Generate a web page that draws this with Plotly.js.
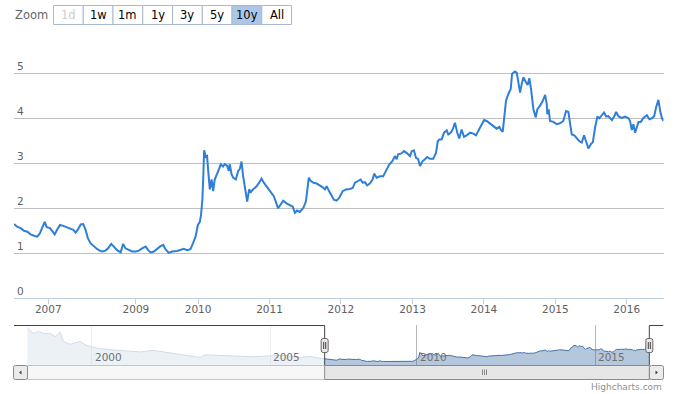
<!DOCTYPE html>
<html><head><meta charset="utf-8">
<script src="https://cdn.plot.ly/plotly-3.0.1.min.js"></script>
<style>html,body{margin:0;padding:0;background:#fff;} #chart{width:678px;height:394px;}</style>
</head><body><div id="chart"></div>
<script>
// ---------- data ----------
const dates = ['2006-07-10','2006-07-26','2006-08-13','2006-08-30','2006-09-16','2006-10-03','2006-10-20','2006-11-06','2006-11-19','2006-12-01','2006-12-14','2006-12-24',
'2007-01-10','2007-01-21','2007-02-03','2007-02-16','2007-03-02','2007-03-19','2007-04-05','2007-04-22','2007-05-09','2007-05-21','2007-06-02','2007-06-16','2007-06-29','2007-07-11','2007-07-23','2007-08-06','2007-08-23','2007-09-09',
'2008-07-01','2008-07-13','2008-07-30','2008-08-12','2008-08-28','2008-09-11','2008-09-27','2008-10-15','2008-10-28','2008-11-09','2008-11-26','2008-12-13','2008-12-31',
'2009-01-16','2009-02-02','2009-02-20','2009-03-05','2009-03-17','2009-04-03','2009-04-20','2009-05-07','2009-05-21','2009-07-18','2009-08-04','2009-08-21','2009-09-16','2009-10-03','2009-10-20','2009-11-06','2009-11-23','2009-12-06','2009-12-19','2009-12-31',
'2010-01-10','2010-01-16','2010-01-23','2010-01-27','2010-02-01','2010-02-09','2010-02-16','2010-02-21','2010-03-02','2010-03-11','2010-03-19','2010-03-27','2010-04-05','2010-04-18','2010-04-27','2010-05-09','2010-05-18','2010-05-29','2010-06-07','2010-06-12','2010-06-21','2010-06-29','2010-07-13','2010-07-25','2010-08-02','2010-08-11','2010-08-19','2010-08-28','2010-09-09','2010-09-19','2010-09-28','2010-10-09','2010-10-27','2010-11-09','2010-11-21','2010-12-03','2010-12-17','2010-12-30',
'2011-01-11','2011-01-23','2011-02-02','2011-02-14','2011-02-26','2011-03-12','2011-03-29','2011-04-15','2011-04-29','2011-05-11','2011-05-22','2011-06-05','2011-06-22','2011-07-06','2011-07-15','2011-07-21','2011-07-30','2011-08-12','2011-08-30','2011-09-16','2011-09-29','2011-10-11','2011-10-20','2011-11-02','2011-11-14','2011-11-26','2011-12-10','2011-12-23',
'2012-01-10','2012-01-27','2012-02-16','2012-03-01','2012-03-13','2012-03-29','2012-04-11','2012-04-21','2012-05-03','2012-05-14','2012-05-28','2012-06-11','2012-06-19','2012-07-02','2012-07-18','2012-08-04','2012-08-22','2012-09-04','2012-09-21','2012-10-03','2012-10-12','2012-10-20','2012-11-06','2012-11-18','2012-12-05','2012-12-19','2012-12-28',
'2013-01-08','2013-01-19','2013-01-30','2013-02-08','2013-02-22','2013-03-06','2013-03-17','2013-03-31','2013-04-17','2013-05-01','2013-05-10','2013-05-18','2013-05-30','2013-06-11','2013-06-25','2013-07-03','2013-07-15','2013-07-25','2013-08-06','2013-08-18','2013-08-28','2013-09-09','2013-09-21','2013-10-05','2013-10-22','2013-11-08','2013-11-22','2013-12-03','2013-12-21',
'2014-01-02','2014-01-15','2014-02-01','2014-02-18','2014-03-07','2014-03-21','2014-03-29','2014-04-07','2014-04-15','2014-04-24','2014-05-06','2014-05-18','2014-05-25','2014-05-31','2014-06-09','2014-06-18','2014-06-26','2014-07-05','2014-07-13','2014-07-22','2014-08-04','2014-08-13','2014-08-21','2014-08-30','2014-09-11','2014-09-23','2014-10-01','2014-10-15','2014-10-29','2014-11-10','2014-11-18','2014-11-21','2014-11-28','2014-12-05','2014-12-22',
'2015-01-08','2015-01-25','2015-02-11','2015-02-25','2015-03-09','2015-03-17','2015-03-26','2015-04-08','2015-04-21','2015-05-04','2015-05-16','2015-05-28','2015-06-07','2015-06-19','2015-07-01','2015-07-12','2015-07-23','2015-08-04','2015-08-14','2015-08-27','2015-09-07','2015-09-18','2015-09-29','2015-10-17','2015-10-29','2015-11-08','2015-11-20','2015-12-07','2015-12-24',
'2016-01-10','2016-01-18','2016-01-27','2016-02-04','2016-02-13','2016-02-22','2016-03-01','2016-03-13','2016-03-26','2016-04-13','2016-04-26','2016-05-08','2016-05-20','2016-05-30','2016-06-11','2016-06-20','2016-06-29','2016-07-07'];
const values = [1.65,1.59,1.56,1.50,1.48,1.42,1.39,1.37,1.44,1.56,1.70,1.58,
1.56,1.50,1.42,1.53,1.63,1.61,1.58,1.56,1.52,1.46,1.53,1.64,1.65,1.52,1.33,1.22,1.15,1.09,
1.06,1.04,1.06,1.11,1.21,1.15,1.07,1.02,1.21,1.11,1.07,1.04,1.04,
1.06,1.11,1.15,1.07,1.02,1.04,1.11,1.16,1.19,1.09,1.01,1.04,1.05,1.07,1.10,1.07,1.09,1.22,1.37,1.63,
1.70,1.85,2.20,2.64,3.29,3.14,3.16,2.87,2.42,2.64,2.38,2.64,2.72,2.87,2.98,2.93,2.98,2.95,2.83,2.98,2.76,2.68,2.64,2.83,2.87,3.04,2.72,2.49,2.15,2.42,2.36,2.42,2.49,2.57,2.66,2.57,2.49,2.42,
2.34,2.27,2.15,2.00,2.08,2.17,2.11,2.08,2.04,1.90,1.95,1.92,2.00,2.15,2.42,2.68,2.61,2.57,2.55,2.51,2.47,2.42,2.49,2.38,2.27,2.19,2.17,2.23,
2.38,2.42,2.43,2.45,2.57,2.60,2.64,2.57,2.58,2.51,2.55,2.64,2.77,2.68,2.71,2.71,2.85,2.97,3.05,3.16,3.09,3.20,3.22,3.27,3.22,3.16,3.27,
3.29,3.12,3.09,2.94,3.05,3.09,3.14,3.10,3.10,3.23,3.49,3.53,3.53,3.68,3.73,3.64,3.68,3.75,3.90,3.68,3.55,3.75,3.59,3.62,3.68,3.66,3.62,3.72,3.87,
3.96,3.94,3.88,3.83,3.77,3.81,3.74,3.70,3.98,4.39,4.54,4.65,4.99,5.02,5.04,5.01,4.80,4.57,4.76,4.91,4.80,4.74,4.89,4.65,4.20,4.02,4.20,4.28,4.39,4.52,4.32,4.09,4.20,3.94,3.92,
3.87,3.89,3.94,4.16,4.14,3.90,3.64,3.62,3.55,3.49,3.46,3.62,3.49,3.33,3.42,3.47,3.79,4.04,4.00,4.07,4.13,4.04,4.05,3.96,4.04,4.14,4.04,4.01,4.04,
4.00,3.94,3.74,3.87,3.68,3.83,3.92,3.92,4.01,4.07,3.98,4.00,4.04,4.24,4.41,4.16,4.00,3.94];

// navigator history before the selected range
const navDates = ['1998-03-14','1998-05-14','1998-07-04','1998-08-25','1998-11-01','1998-12-22','1999-02-11','1999-03-17','1999-05-24','1999-09-03','1999-11-11','2000-02-21','2000-07-06','2000-12-24','2001-05-10','2001-09-20','2002-02-06','2002-08-30','2003-01-13','2003-03-05','2003-07-03','2003-12-17','2004-07-08','2004-11-26','2005-05-11','2005-11-01','2006-02-11','2006-05-04'];
const navValues = [9.4,8.0,8.45,8.0,8.0,7.2,8.3,6.0,5.3,6.0,5.0,4.35,3.95,3.55,3.4,3.8,3.3,2.7,2.05,2.7,2.55,2.4,2.2,2.4,2.55,2.05,2.3,1.9];

// ordinal gaps (periods without data)
const gaps = [['2007-09-22','2008-07-01'],['2009-05-29','2009-07-15']];

const yearTicks = ['2007-01-01','2009-01-01','2010-01-01','2011-01-01','2012-01-01','2013-01-01','2014-01-01','2015-01-01','2016-01-01'];
const yearLabels = ['2007','2009','2010','2011','2012','2013','2014','2015','2016'];
const yTicks = [0,1,2,3,4,5,6];
const yLabels = ['0','1','2','3','4','5',''];
const navTicks = ['2000-01-01','2005-01-01','2010-01-01','2015-01-01'];
const navLabels = ['2000','2005','2010','2015'];
const navRange = ['1997-10-28','2016-11-29'];
const buttons = ['1d','1w','1m','1y','3y','5y','10y','All'];
const selectedButton = '10y';
const disabledButton = '1d';

// ---------- layout helpers ----------
const W = 678, H = 394;
const X = p => p / W;
const Y = p => 1 - p / H;
const FONT = 'DejaVu Sans, Verdana, sans-serif';
const start = dates[0], end = dates[dates.length - 1];

function rr(x0, y0, x1, y1, r) { // rounded rect path in paper coords from pixel box
  const a = (x,y) => X(x) + ',' + Y(y);
  return 'M' + a(x0 + r, y0) + ' L' + a(x1 - r, y0) + ' Q' + a(x1, y0) + ' ' + a(x1, y0 + r) +
    ' L' + a(x1, y1 - r) + ' Q' + a(x1, y1) + ' ' + a(x1 - r, y1) + ' L' + a(x0 + r, y1) +
    ' Q' + a(x0, y1) + ' ' + a(x0, y1 - r) + ' L' + a(x0, y0 + r) + ' Q' + a(x0, y0) + ' ' + a(x0 + r, y0) + ' Z';
}

const shapes = [];
const annotations = [];

// range selector buttons
const bx0 = 53, bw = 29.75;
buttons.forEach((b, i) => {
  const x0 = bx0 + i * bw;
  shapes.push({type: 'rect', xref: 'paper', yref: 'paper', x0: X(x0 + 0.5), x1: X(x0 + bw + 0.5), y0: Y(5.5), y1: Y(24.5),
    fillcolor: b === selectedButton ? '#acc6e8' : '#ffffff', line: {color: '#a9b9cd', width: 1}, layer: 'above'});
  annotations.push({text: b, xref: 'paper', yref: 'paper', x: X(x0 + bw / 2 + 0.5), y: Y(15), xanchor: 'center', yanchor: 'middle',
    showarrow: false, font: {family: FONT, size: 11.5, color: b === disabledButton ? '#cccccc' : '#000000'}});
});
annotations.push({text: 'Zoom', xref: 'paper', yref: 'paper', x: X(12.5), y: Y(15), xanchor: 'left', yanchor: 'middle',
  showarrow: false, font: {family: FONT, size: 11.5, color: '#666666'}});

// navigator mask + outline
const navTop = 325.5, navBot = 365.5;
shapes.push({type: 'rect', xref: 'x2', yref: 'paper', x0: navRange[0], x1: start, y0: Y(navBot), y1: Y(navTop), fillcolor: 'rgba(255,255,255,0.75)', line: {width: 0}, layer: 'above'});
shapes.push({type: 'rect', xref: 'x2', yref: 'paper', x0: end, x1: navRange[1], y0: Y(navBot), y1: Y(navTop), fillcolor: 'rgba(255,255,255,0.75)', line: {width: 0}, layer: 'above'});
const oline = {color: '#444444', width: 1};
shapes.push({type: 'line', xref: 'x2', yref: 'paper', x0: navRange[0], x1: start, y0: Y(navTop), y1: Y(navTop), line: oline, layer: 'above'});
shapes.push({type: 'line', xref: 'x2', yref: 'paper', x0: start, x1: start, y0: Y(navTop), y1: Y(navBot), line: oline, layer: 'above'});
shapes.push({type: 'line', xref: 'x2', yref: 'paper', x0: start, x1: end, y0: Y(navBot), y1: Y(navBot), line: oline, layer: 'above'});
shapes.push({type: 'line', xref: 'x2', yref: 'paper', x0: end, x1: end, y0: Y(navTop), y1: Y(navBot), line: oline, layer: 'above'});
shapes.push({type: 'line', xref: 'x2', yref: 'paper', x0: end, x1: navRange[1], y0: Y(navTop), y1: Y(navTop), line: oline, layer: 'above'});

// scrollbar
const sbTop = 365.5, sbBot = 379.5;
shapes.push({type: 'rect', xref: 'paper', yref: 'paper', x0: X(27.5), x1: X(649.5), y0: Y(sbBot), y1: Y(sbTop), fillcolor: '#f7f7f7', line: {color: '#c4c4c4', width: 1}, layer: 'above'});
shapes.push({type: 'rect', xref: 'x2', yref: 'paper', x0: start, x1: end, y0: Y(sbBot), y1: Y(sbTop), fillcolor: '#e6e6e6', line: {color: '#8a8a8a', width: 1}, layer: 'above'});
shapes.push({type: 'path', xref: 'paper', yref: 'paper', path: rr(13.5, sbTop, 27.5, sbBot, 2), fillcolor: '#ebebeb', line: {color: '#8a8a8a', width: 1}, layer: 'above'});
shapes.push({type: 'path', xref: 'paper', yref: 'paper', path: rr(649.5, sbTop, 663.5, sbBot, 2), fillcolor: '#ebebeb', line: {color: '#8a8a8a', width: 1}, layer: 'above'});
shapes.push({type: 'path', xref: 'paper', yref: 'paper', path: 'M' + X(19) + ',' + Y(372.5) + ' L' + X(21.5) + ',' + Y(370.5) + ' L' + X(21.5) + ',' + Y(374.5) + ' Z', fillcolor: '#444444', line: {width: 0}, layer: 'above'});
shapes.push({type: 'path', xref: 'paper', yref: 'paper', path: 'M' + X(658) + ',' + Y(372.5) + ' L' + X(655.5) + ',' + Y(370.5) + ' L' + X(655.5) + ',' + Y(374.5) + ' Z', fillcolor: '#444444', line: {width: 0}, layer: 'above'});
[482.5, 484.5, 486.5].forEach(gx => shapes.push({type: 'line', xref: 'paper', yref: 'paper', x0: X(gx), x1: X(gx), y0: Y(369.5), y1: Y(375), line: {color: '#888888', width: 1}, layer: 'above'}));

// navigator handles
[start, end].forEach(d => {
  shapes.push({type: 'path', xref: 'x2', yref: 'paper', xsizemode: 'pixel', ysizemode: 'pixel', xanchor: d, yanchor: Y(345.5),
    path: 'M -1.5,-7 L 1.5,-7 Q 3.5,-7 3.5,-5 L 3.5,5 Q 3.5,7 1.5,7 L -1.5,7 Q -3.5,7 -3.5,5 L -3.5,-5 Q -3.5,-7 -1.5,-7 Z',
    fillcolor: '#ebe7e8', line: {color: '#666666', width: 1}, layer: 'above'});
  shapes.push({type: 'path', xref: 'x2', yref: 'paper', xsizemode: 'pixel', ysizemode: 'pixel', xanchor: d, yanchor: Y(345.5),
    path: 'M -1,-3.5 L -1,3.5 M 1,-3.5 L 1,3.5', line: {color: '#444444', width: 1}, layer: 'above'});
});

// navigator labels
navTicks.forEach((t, i) => annotations.push({text: navLabels[i], xref: 'x2', yref: 'paper', x: t, y: Y(357), xanchor: 'left', yanchor: 'middle', xshift: 1,
  showarrow: false, font: {family: FONT, size: 10.5, color: '#707070'}}));

// credits
annotations.push({text: 'Highcharts.com', xref: 'paper', yref: 'paper', x: X(664), y: Y(386.5), xanchor: 'right', yanchor: 'middle', showarrow: false,
  font: {family: FONT, size: 9, color: '#909090'}});

const breaks = gaps.map(g => ({bounds: g}));

const traces = [
  {type: 'scatter', mode: 'lines', x: navDates.concat(dates), y: navValues.concat(values), xaxis: 'x2', yaxis: 'y2',
   fill: 'tozeroy', fillcolor: 'rgba(69,114,167,0.4)', line: {color: '#4572A7', width: 1}, hoverinfo: 'skip'},
  {type: 'scatter', mode: 'lines', x: dates, y: values, xaxis: 'x', yaxis: 'y',
   line: {color: '#2f7ed8', width: 2}, hoverinfo: 'skip'}
];

const layout = {
  width: W, height: H, margin: {l: 0, r: 0, t: 0, b: 0},
  paper_bgcolor: '#ffffff', plot_bgcolor: 'rgba(0,0,0,0)', showlegend: false,
  font: {family: FONT, size: 11, color: '#606060'},
  xaxis: {type: 'date', domain: [X(14), X(663.5)], range: [start, end], rangebreaks: breaks, anchor: 'y',
    tickmode: 'array', tickvals: yearTicks, ticktext: yearLabels, showgrid: false, zeroline: false,
    ticks: 'outside', ticklen: 5, tickcolor: '#C0D0E0', showline: true, linecolor: '#C0D0E0', linewidth: 1,
    ticklabelstandoff: -4,
    tickfont: {family: FONT, size: 10.5, color: '#606060'}, fixedrange: true},
  yaxis: {domain: [Y(298.3), Y(27.85)], range: [0, 6.01], anchor: 'x', tickmode: 'array', tickvals: yTicks, ticktext: yLabels,
    showgrid: true, gridcolor: '#C0C0C0', gridwidth: 1, zeroline: false, ticks: '', showline: false,
    ticklabelposition: 'inside top', tickfont: {family: FONT, size: 10.5, color: '#606060'}, fixedrange: true},
  xaxis2: {type: 'date', domain: [X(14), X(663.5)], range: navRange, rangebreaks: breaks, anchor: 'y2',
    tickmode: 'array', tickvals: navTicks, showticklabels: false, showgrid: true, gridcolor: '#b8b8b8', zeroline: false,
    ticks: '', showline: false, fixedrange: true},
  yaxis2: {domain: [Y(365.7), Y(325.3)], range: [0, 10], anchor: 'x2', showgrid: false, showticklabels: false, zeroline: false, ticks: '', fixedrange: true},
  shapes: shapes, annotations: annotations
};

Plotly.newPlot('chart', traces, layout, {displayModeBar: false, staticPlot: true});
</script>
</body></html>
